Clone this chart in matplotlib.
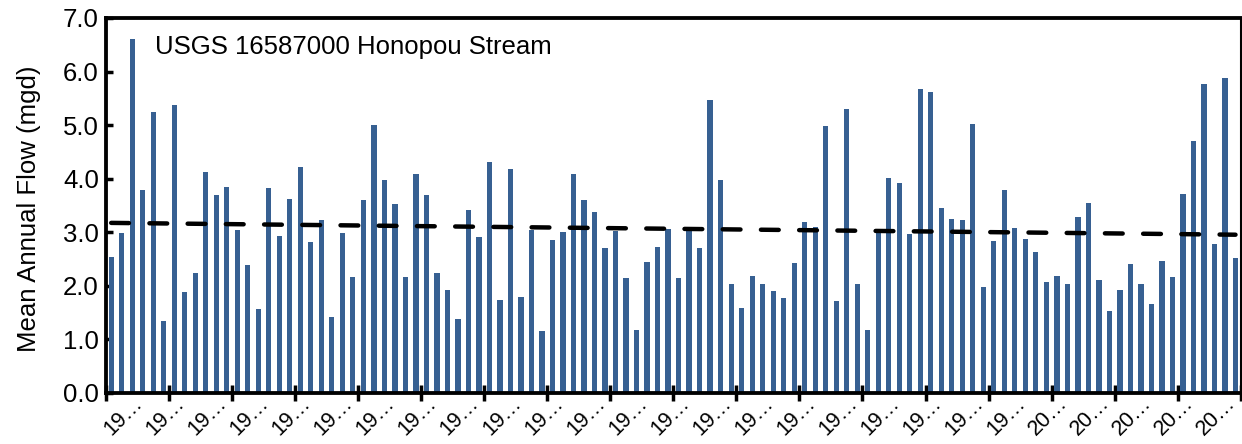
import numpy as np
import matplotlib
matplotlib.use("Agg")
import matplotlib.pyplot as plt
from matplotlib.ticker import FixedLocator, FormatStrFormatter

plt.rcParams['font.family'] = ['Liberation Sans', 'DejaVu Sans']

start_year = 1912
flow = [2.54, 2.98, 6.60, 3.78, 5.24, 1.34, 5.37, 1.88, 2.23, 4.12,
        3.70, 3.84, 3.04, 2.38, 1.56, 3.83, 2.93, 3.62, 4.21, 2.81,
        3.22, 1.41, 2.98, 2.16, 3.61, 5.01, 3.97, 3.52, 2.16, 4.08,
        3.69, 2.23, 1.93, 1.38, 3.41, 2.92, 4.32, 1.73, 4.18, 1.79,
        3.05, 1.15, 2.86, 3.00, 4.08, 3.61, 3.37, 2.70, 3.02, 2.15,
        1.17, 2.45, 2.72, 3.06, 2.15, 3.09, 2.70, 5.46, 3.97, 2.03,
        1.59, 2.18, 2.03, 1.90, 1.78, 2.43, 3.19, 3.09, 4.99, 1.71,
        5.30, 2.03, 1.18, 2.98, 4.01, 3.91, 2.97, 5.68, 5.62, 3.45,
        3.25, 3.22, 5.02, 1.98, 2.84, 3.78, 3.07, 2.88, 2.64, 2.07,
        2.18, 2.03, 3.28, 3.55, 2.10, 1.53, 1.93, 2.41, 2.03, 1.66,
        2.47, 2.16, 3.71, 4.70, 5.77, 2.78, 5.88, 2.52]
years = [str(start_year + i) for i in range(len(flow))]
title_text = "USGS 16587000 Honopou Stream"
y_label = "Mean Annual Flow (mgd)"

fig = plt.figure(figsize=(12.42, 4.44), dpi=100)
ax = fig.add_axes([0.0853, 0.115, 0.9137, 0.8445])

x = np.arange(len(flow))
ax.bar(x, flow, width=0.5, color='#376092', zorder=2)

# linear trend line
coef = np.polyfit(x, flow, 1)
trend = np.polyval(coef, x)
line, = ax.plot(x, trend, color='black', lw=3.2, zorder=3,
                solid_capstyle='round', dash_capstyle='round')
line.set_dashes((4, 4.6))

ax.set_xlim(-0.5, len(flow) - 0.5)
ax.set_ylim(0, 7.0)
ax.yaxis.set_major_locator(FixedLocator(np.arange(0, 7.01, 1.0)))
ax.yaxis.set_major_formatter(FormatStrFormatter('%.1f'))

# labels every 4 categories, tick marks every 6 categories
label_pos = list(range(2, len(flow), 4))
ax.set_xticks(label_pos)
ax.set_xticklabels([years[i][:2] + '\u2026' for i in label_pos],
                   rotation=45, ha='right', va='top', rotation_mode='anchor')
ax.tick_params(axis='x', which='major', length=0, pad=0, labelsize=15.5)
ax.set_xticks(np.arange(-0.5, len(flow), 6), minor=True)
ax.tick_params(axis='x', which='minor', direction='inout', length=11, width=2.5)

ax.tick_params(axis='y', which='major', direction='in', length=5, width=2.5,
               pad=5, labelsize=18.5)

for side in ['left', 'bottom', 'top']:
    ax.spines[side].set_linewidth(2.75)
ax.spines['right'].set_linewidth(1.5)

ax.set_ylabel(y_label, fontsize=18.5)
ax.yaxis.set_label_coords(-0.057, 0.49)

ax.text(0.043, 0.923, title_text, transform=ax.transAxes, fontsize=18.5,
        ha='left', va='center')

fig.savefig('out.png', dpi=100)
